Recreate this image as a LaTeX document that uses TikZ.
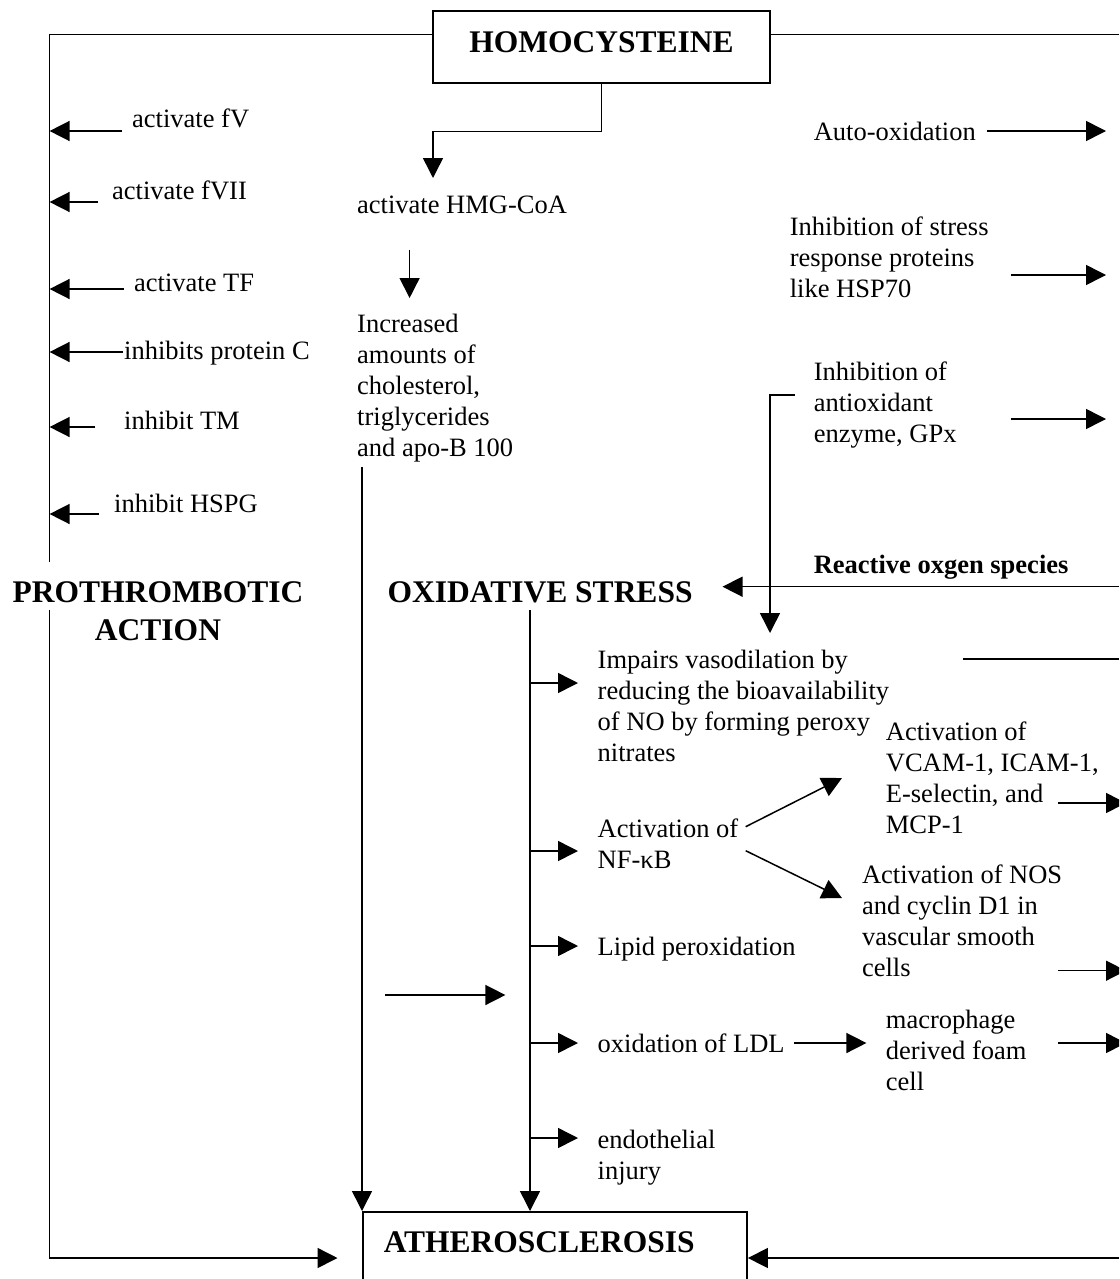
\documentclass[tikz,border=0pt]{standalone}
\usepackage{fontspec}
\setmainfont{Liberation Serif}
\usetikzlibrary{arrows.meta}
\begin{document}
\begin{tikzpicture}[x=1pt,y=-1pt,
  ln/.style={line width=1.5pt},
  arr/.style={line width=1.5pt,-{Triangle[length=20pt,width=20pt]}},
  txt/.style={inner sep=0pt, anchor=base west, align=left, font=\fontsize{26.5}{31}\selectfont},
  headfont/.style={font=\fontsize{31.5}{38}\selectfont\bfseries},
  head/.style={inner sep=0pt, anchor=base west, headfont},
]
\useasboundingbox (0,0) rectangle (1119,1279);
\clip (0,0) rectangle (1119,1279);

% ---------- boxes ----------
\node[draw, ln, headfont, minimum width=337pt, minimum height=72pt,
      text height=22pt, text depth=10pt, inner sep=0pt] (homo) at (601.5,47) {HOMOCYSTEINE};
\node[draw, ln, headfont, anchor=north west, inner xsep=21pt, inner ysep=19pt,
      text width=342.4pt, align=left, text height=22pt, text depth=20pt] (athero) at (362,1211) {ATHEROSCLEROSIS};

% ---------- left column (multi-line nodes placed by the baseline of their last line) ----------
\node[txt] (fV) at (132,128) {activate fV};
\node[txt] (fVII) at (112,199) {activate fVII};
\node[txt] (TF) at (134,291) {activate TF};
\node[txt] (pC) at (124,359) {inhibits protein C};
\node[txt] (TM) at (124,429) {inhibit TM};
\node[txt] (HSPG) at (114,512) {inhibit HSPG};
\node[headfont, inner sep=0pt, align=center, anchor=base] (proth) at (158,640) {PROTHROMBOTIC\\ACTION};

% ---------- middle column ----------
\node[txt] (hmg) at (357,213) {activate HMG-CoA};
\node[txt] (incr) at (357,456) {Increased\\amounts of\\cholesterol,\\triglycerides\\and apo-B 100};
\node[head] (ox) at (387.5,602) {OXIDATIVE STRESS};

% ---------- right column ----------
\node[txt] (auto) at (813.6,140) {Auto-oxidation};
\node[txt] (hsp) at (789.6,297) {Inhibition of stress\\response proteins\\like HSP70};
\node[txt] (gpx) at (813.6,442) {Inhibition of\\antioxidant\\enzyme, GPx};
\node[txt, font=\fontsize{26.5}{31}\selectfont\bfseries] (ros) at (813.6,573) {Reactive oxgen species};

% ---------- oxidative stress branches ----------
\node[txt] (imp) at (597.5,761) {Impairs vasodilation by\\reducing the bioavailability\\of NO by forming peroxy\\nitrates};
\node[txt] (vcam) at (885.7,833) {Activation of\\VCAM-1, ICAM-1,\\E-selectin, and\\MCP-1};
\node[txt] (nfkb) at (597.5,868) {Activation of\\NF-κB};
\node[txt] (nos) at (861.8,976) {Activation of NOS\\and cyclin D1 in\\vascular smooth\\cells};
\node[txt] (lipid) at (597.5,955) {Lipid peroxidation};
\node[txt] (ldl) at (597.5,1052) {oxidation of LDL};
\node[txt] (macro) at (885.7,1090) {macrophage\\derived foam\\cell};
\node[txt] (endo) at (597.5,1179) {endothelial\\injury};

% ---------- coordinates ----------
\coordinate (pline) at (49.6,34.7);
\coordinate (pl2) at (49.6,610);
\coordinate (blt) at (337.5,1258);
\coordinate (tr) at (1119,34.7);
\coordinate (hmgtip) at (433,178);
\coordinate (hmgA) at (409.6,250);
\coordinate (hmgB) at (409.6,298);
\coordinate (midtop) at (362,467);
\coordinate (oxtop) at (530,610);
\coordinate (a1) at (122,131);
\coordinate (a2) at (98,202);
\coordinate (a3) at (124,289);
\coordinate (a4) at (123,352);
\coordinate (a5) at (95,427);
\coordinate (a6) at (99,514);
\coordinate (b1) at (578,683);
\coordinate (b2) at (578,851);
\coordinate (b3) at (578,946);
\coordinate (b4) at (578,1043);
\coordinate (b5) at (578,1138);
\coordinate (fa1) at (385,995);
\coordinate (fa2) at (505.4,995);
\coordinate (r1s) at (986.8,131);
\coordinate (r1e) at (1106,131);
\coordinate (r2s) at (1010.7,275);
\coordinate (r2e) at (1106,275);
\coordinate (r3s) at (1010.7,419);
\coordinate (r3e) at (1106,419);
\coordinate (brs) at (794.6,395);
\coordinate (brt) at (770,633);
\coordinate (rosR) at (1119,586.7);
\coordinate (rosT) at (722.5,586.7);
\coordinate (impS) at (962.9,659);
\coordinate (impE) at (1119,659);
\coordinate (vcS) at (1058,803);
\coordinate (vcE) at (1126,803);
\coordinate (nfA) at (745.7,826.7);
\coordinate (nfAt) at (842,778);
\coordinate (nfB) at (745.7,850.7);
\coordinate (nfBt) at (842,898);
\coordinate (nosS) at (1058,970.7);
\coordinate (nosE) at (1126,970.7);
\coordinate (ldlS) at (794,1043);
\coordinate (ldlT) at (866.4,1043);
\coordinate (maS) at (1058,1043);
\coordinate (maE) at (1126,1043);
\coordinate (rb) at (1119,1258);

% ---------- connectors ----------
\draw[ln] (homo.west |- pline) -- (pline) -- (49.6,562);
\draw[arr] (pl2) |- (blt);
\draw[ln] (homo.east |- tr) -- (tr);
\draw[arr] (homo.south) -- ++(0,47.7) -| (hmgtip);
\draw[arr] (hmgA) -- (hmgB);
\draw[arr] (midtop) -- (athero.north west);
\draw[arr] (oxtop) -- (oxtop |- athero.north);

\foreach \a in {a1,a2,a3,a4,a5,a6} \draw[arr] (\a) -- (\a -| pline);
\foreach \b in {b1,b2,b3,b4,b5} \draw[arr] (\b -| oxtop) -- (\b);

\draw[arr] (fa1) -- (fa2);
\draw[arr] (r1s) -- (r1e);
\draw[arr] (r2s) -- (r2e);
\draw[arr] (r3s) -- (r3e);
\draw[arr] (brs) -| (brt);
\draw[arr] (rosR) -- (rosT);
\draw[ln] (impS) -- (impE);
\draw[arr] (vcS) -- (vcE);
\draw[arr] (nfA) -- (nfAt);
\draw[arr] (nfB) -- (nfBt);
\draw[arr] (nosS) -- (nosE);
\draw[arr] (ldlS) -- (ldlT);
\draw[arr] (maS) -- (maE);
\draw[arr] (rb) -- (rb -| athero.east);
\end{tikzpicture}
\end{document}
